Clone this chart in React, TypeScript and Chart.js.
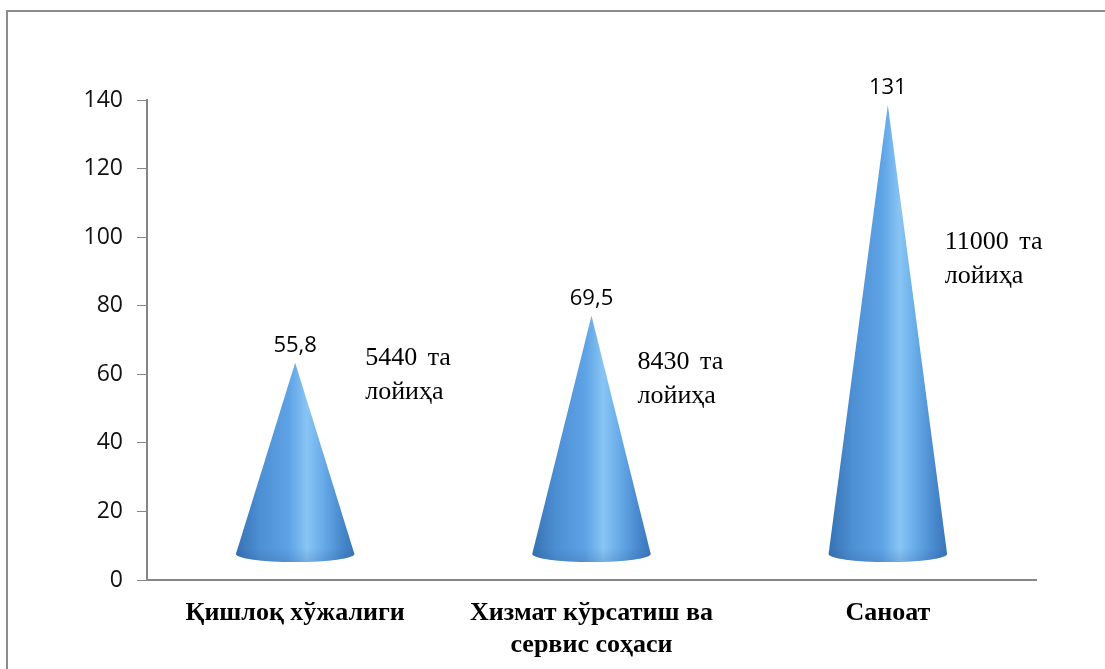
import { useEffect, useRef } from 'react';
import { Chart, registerables } from 'chart.js';

Chart.register(...registerables);

// ---- data ----
const categories: (string | string[])[] = [
  'Қишлоқ хўжалиги',
  ['Хизмат кўрсатиш ва', 'сервис соҳаси'],
  'Саноат',
];
const values = [55.8, 69.5, 131];
const valueLabels = ['55,8', '69,5', '131'];
const projectLabels = [
  ['5440 та', 'лойиҳа'],
  ['8430 та', 'лойиҳа'],
  ['11000 та', 'лойиҳа'],
];
const yMin = 0;
const yMax = 140;
const yStep = 20;

// ---- layout / style (not data) ----
const annotationPlacement = [
  { dx: 70, atValue: 64.7 },
  { dx: 46, atValue: 63.6 },
  { dx: 57, atValue: 98.6 },
];
const DEPTH = 26; // pseudo-3D floor offset in px
const CONE_RY = 8;
const AXIS_COLOR = '#868686';

const conePlugin = {
  id: 'cones',
  beforeDraw(chart: any) {
    const ctx = chart.ctx;
    ctx.save();
    ctx.fillStyle = '#ffffff';
    ctx.fillRect(0, 0, chart.width, chart.height);
    ctx.strokeStyle = '#8c8c8c';
    ctx.lineWidth = 2;
    ctx.strokeRect(7, 11, chart.width + 50, chart.height + 50);
    ctx.restore();
  },
  afterDatasetsDraw(chart: any) {
    const ctx: CanvasRenderingContext2D = chart.ctx;
    const meta = chart.getDatasetMeta(0);
    const yScale = chart.scales.y;
    const xScale = chart.scales.x;
    const data = chart.data.datasets[0].data as number[];
    const catW = (xScale.right - xScale.left) / data.length;
    const rx = catW * 0.2;
    meta.data.forEach((bar: any, i: number) => {
      const cx = bar.x;
      const baseY = yScale.getPixelForValue(0) - DEPTH;
      const tipY = yScale.getPixelForValue(data[i]) - DEPTH;
      ctx.save();
      ctx.beginPath();
      ctx.moveTo(cx, tipY);
      ctx.lineTo(cx - rx, baseY);
      ctx.ellipse(cx, baseY, rx, CONE_RY, 0, Math.PI, 0, true);
      ctx.closePath();
      const g = ctx.createLinearGradient(cx - rx, 0, cx + rx, 0);
      g.addColorStop(0, '#3672b3');
      g.addColorStop(0.2, '#4d8fd3');
      g.addColorStop(0.45, '#5ea3e5');
      g.addColorStop(0.6, '#88c5f4');
      g.addColorStop(0.73, '#68ace9');
      g.addColorStop(0.9, '#4787cc');
      g.addColorStop(1, '#3a76b8');
      ctx.fillStyle = g;
      ctx.fill();
      ctx.clip();
      const v = ctx.createLinearGradient(0, baseY - 6, 0, baseY + CONE_RY);
      v.addColorStop(0, 'rgba(30,70,130,0)');
      v.addColorStop(1, 'rgba(30,70,130,0.18)');
      ctx.fillStyle = v;
      ctx.fillRect(cx - rx - 2, baseY - 6, rx * 2 + 4, CONE_RY + 8);
      ctx.restore();

      // value label
      ctx.save();
      ctx.fillStyle = '#000';
      ctx.font = '22px "Open Sans"';
      ctx.textAlign = 'center';
      ctx.textBaseline = 'middle';
      ctx.fillText(valueLabels[i], cx, tipY - 17);
      ctx.restore();

      // project annotation
      const pl = annotationPlacement[i];
      ctx.save();
      ctx.fillStyle = '#000';
      ctx.font = '26px "Liberation Serif"';
      (ctx as any).wordSpacing = '4px';
      ctx.textAlign = 'left';
      ctx.textBaseline = 'middle';
      const ly = yScale.getPixelForValue(pl.atValue);
      projectLabels[i].forEach((line, k) => {
        ctx.fillText(line, cx + pl.dx, ly + k * 34);
      });
      ctx.restore();
    });
  },
};

export default function App() {
  const ref = useRef<HTMLCanvasElement>(null);
  useEffect(() => {
    if (!ref.current) return;
    const chart = new Chart(ref.current, {
      type: 'bar',
      data: {
        labels: categories as any,
        datasets: [
          {
            data: values,
            backgroundColor: 'rgba(0,0,0,0)',
            borderWidth: 0,
          },
        ],
      },
      options: {
        animation: false,
        responsive: false,
        layout: { padding: { left: 0, top: 100, right: 69, bottom: 0 } },
        plugins: {
          legend: { display: false },
          tooltip: { enabled: false },
        },
        scales: {
          x: {
            grid: { display: false, drawTicks: false },
            border: { display: true, color: AXIS_COLOR, width: 2 },
            ticks: {
              color: '#000',
              font: { family: '"Liberation Serif"', size: 26, weight: 'bold', lineHeight: 1.25 },
              padding: 17,
              maxRotation: 0,
              autoSkip: false,
            },
            afterFit: (s: any) => {
              s.height = 89;
            },
          },
          y: {
            min: yMin,
            max: yMax,
            ticks: {
              stepSize: yStep,
              color: '#111',
              font: { family: '"Open Sans"', size: 23 },
              padding: 14,
            },
            grid: { drawOnChartArea: false, tickLength: 10, color: AXIS_COLOR },
            border: { display: true, color: AXIS_COLOR, width: 2 },
            afterFit: (s: any) => {
              s.width = 147;
            },
          },
        },
      },
      plugins: [conePlugin],
    });
    return () => chart.destroy();
  }, []);
  return (
    <div style={{ position: 'absolute', left: 0, top: 0, width: 1105, height: 669 }}>
      <canvas ref={ref} width={1105} height={669} style={{ display: 'block' }} />
    </div>
  );
}
